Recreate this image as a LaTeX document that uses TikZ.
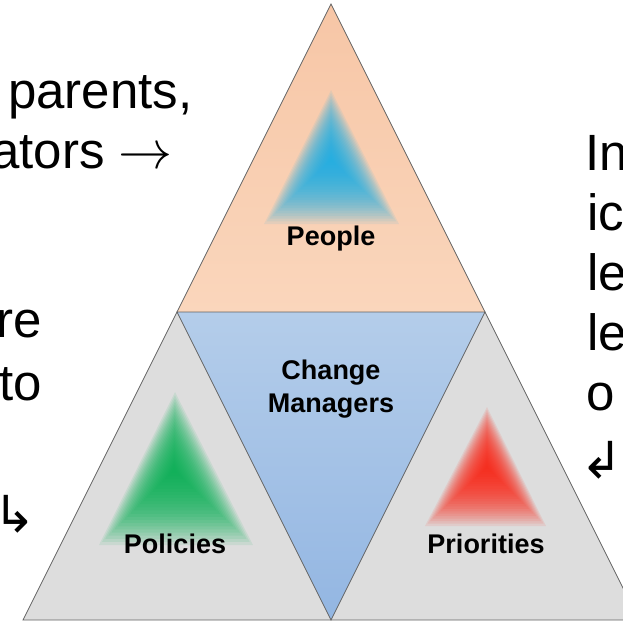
\documentclass[tikz,border=0pt]{standalone}
\usepackage{fontspec}
\setmainfont{Liberation Sans}
\newfontfamily\arrowfont{DejaVu Sans}
\usetikzlibrary{calc}
\definecolor{peach}{RGB}{247,198,166}
\definecolor{peachlight}{RGB}{250,214,188}
\definecolor{greyfill}{RGB}{221,221,221}
\definecolor{bluetop}{RGB}{180,205,234}
\definecolor{bluebottom}{RGB}{147,182,226}
\definecolor{blueglow}{RGB}{20,174,234}
\definecolor{greenglow}{RGB}{0,176,80}
\definecolor{redglow}{RGB}{255,32,16}
\definecolor{edgegrey}{RGB}{100,100,100}
\newcommand\bigto{\scalebox{5.4}{\fontsize{10}{12}\selectfont$\rightarrow$}}
\tikzset{
  side/.style={anchor=base west, inner sep=0pt, font=\fontsize{51}{60}\selectfont},
  tag/.style={inner sep=0pt, align=center, font=\fontsize{27}{33}\selectfont\bfseries},
  edge line/.style={draw=edgegrey, line width=0.8pt},
}
\begin{document}
\begin{tikzpicture}[x=1pt,y=-1pt]
  \useasboundingbox (0,0) rectangle (623,621);
  \clip (0,0) rectangle (623,621);
  % corners of the big triangle
  \coordinate (A) at (331,4);
  \coordinate (L) at (177,312);
  \coordinate (R) at (485,312);
  \coordinate (BL) at (23,620);
  \coordinate (BM) at (331,620);
  \coordinate (BR) at (639,620);
  % the four parts
  \shade[top color=peach, middle color=peach, bottom color=peachlight]
    (A) -- (L) -- (R) -- cycle;
  \fill[greyfill] (L) -- (BL) -- (BM) -- cycle;
  \fill[greyfill] (R) -- (BM) -- (BR) -- cycle;
  \shade[top color=bluetop, bottom color=bluebottom]
    (L) -- (R) -- (BM) -- cycle;
  % glows
  \coordinate (pa) at (331,90);  \coordinate (pl) at (264,224);
  \coordinate (pr) at (399,224); \coordinate (pc) at (331,160);
  \coordinate (ga) at (175,392); \coordinate (gl) at (99,545);
  \coordinate (gr) at (253,545); \coordinate (gc) at (174,470);
  \coordinate (ra) at (487,407); \coordinate (rl) at (425,526);
  \coordinate (rr) at (546,526); \coordinate (rc) at (487,467);
  \foreach \c/\g in {blueglow/p, greenglow/g, redglow/r}
    \foreach \k in {1,...,24}
      \fill[\c, opacity=0.09]
        ($(\g c)!\k/24!(\g a)$) -- ($(\g c)!\k/24!(\g l)$)
        -- ($(\g c)!\k/24!(\g r)$) -- cycle;
  \begin{scope}[edge line]
    \draw (A) -- (BL) -- (BR) -- cycle;
    \draw (L) -- (R) -- (BM) -- cycle;
  \end{scope}
  % labels
  \node[tag, anchor=base] (people) at (331,245) {People};
  \node[tag, anchor=base] (managers) at (331,412) {Change\\Managers};
  \node[tag, anchor=base] (policies) at (175,553) {Policies};
  \node[tag, anchor=base] (priorities) at (486,553) {Priorities};
  % side texts
  \node[side] (parents) at (8,108) {parents,};
  \node[side] (ators) at (-9,168) {ators \bigto};
  \node[side] (re) at (-4,337) {re};
  \node[side] (to) at (-1,400) {to};
  \node[side] (larrow) at (-7,532) {\arrowfont ↳};
  \node[side] (in) at (585,170) {In};
  \node[side] (ic) at (587,230) {ic};
  \node[side] (le1) at (587,290) {le};
  \node[side] (le2) at (587,350) {le};
  \node[side] (o) at (586,410) {o};
  \node[side] (rarrow) at (580,478) {\arrowfont ↲};
\end{tikzpicture}
\end{document}
